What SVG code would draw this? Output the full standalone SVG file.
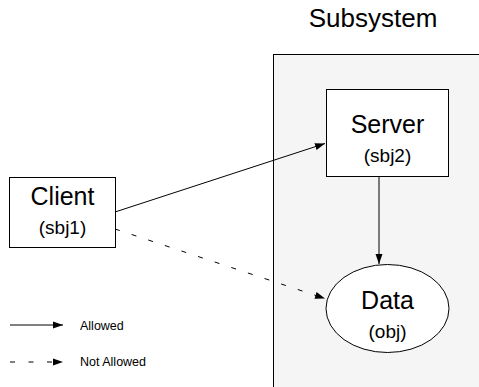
<svg xmlns="http://www.w3.org/2000/svg" width="479" height="387" viewBox="0 0 479 387">
  <style>
    text { font-family: "Liberation Sans", Arial, sans-serif; fill: #000; text-anchor: middle; }
    .box { fill: #fff; stroke: #000; stroke-width: 1; }
    .big { font-size: 25px; }
    .small { font-size: 19px; }
    .legend { font-size: 12.5px; text-anchor: start; }
    .edge { stroke: #000; stroke-width: 1; fill: none; }
    .dash { stroke-dasharray: 5 12.5; }
  </style>
  <defs>
    <marker id="arrow" viewBox="0 0 10 10" refX="10" refY="5" markerWidth="10" markerHeight="10" markerUnits="userSpaceOnUse" orient="auto">
      <path d="M0,1.5 L10,5 L0,8.5 Z" fill="#000"/>
    </marker>
  </defs>
  <rect width="479" height="387" fill="#fff"/>

  <g id="subsystem">
    <rect x="273.5" y="54.5" width="220" height="350" fill="#f5f5f5" stroke="#000"/>
    <text x="373" y="27" style="font-size:26px">Subsystem</text>
  </g>

  <g id="connectors">
    <line class="edge" x1="115" y1="212" x2="325" y2="143.5" marker-end="url(#arrow)"/>
    <line class="edge dash" x1="115" y1="229" x2="325" y2="298.5" marker-end="url(#arrow)"/>
    <line class="edge" x1="379" y1="177" x2="379" y2="264" marker-end="url(#arrow)"/>
  </g>

  <g id="client">
    <rect class="box" x="9.5" y="177.5" width="106" height="70"/>
    <text class="big" x="62.5" y="205">Client</text>
    <text class="small" x="62.5" y="234">(sbj1)</text>
  </g>

  <g id="server">
    <rect class="box" x="326.5" y="89.5" width="122" height="87"/>
    <text class="big" x="387.5" y="133">Server</text>
    <text class="small" x="387.5" y="162">(sbj2)</text>
  </g>

  <g id="data">
    <ellipse class="box" cx="387.5" cy="308.5" rx="61.5" ry="44"/>
    <text class="big" x="387.5" y="309">Data</text>
    <text class="small" x="387.5" y="338">(obj)</text>
  </g>

  <g id="legend">
    <line class="edge" x1="10" y1="325" x2="63" y2="325" marker-end="url(#arrow)"/>
    <text class="legend" x="80" y="330">Allowed</text>
    <line class="edge" x1="10" y1="362" x2="63" y2="362" stroke-dasharray="5 13.5" marker-end="url(#arrow)"/>
    <text class="legend" x="80" y="366">Not Allowed</text>
  </g>
</svg>
